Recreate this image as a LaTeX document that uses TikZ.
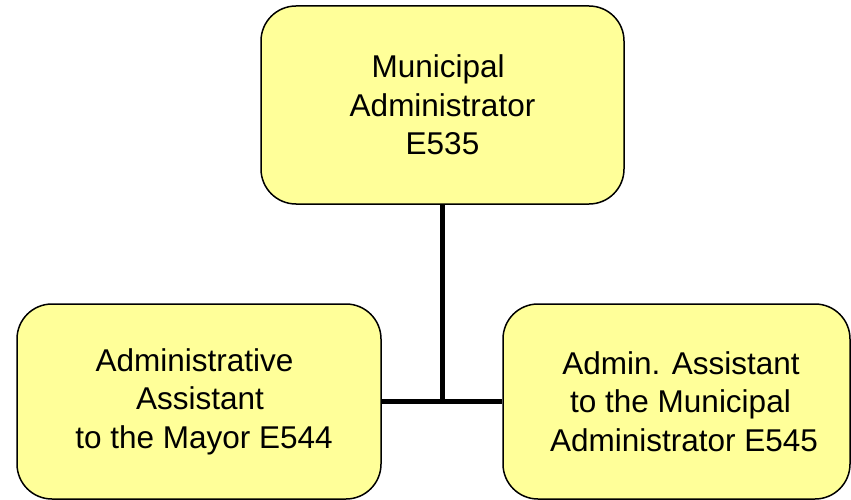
\documentclass[tikz,border=0pt]{standalone}
\usepackage{fontspec}
\setmainfont{Liberation Sans}
\begin{document}
\begin{tikzpicture}[x=1pt,y=-1pt,
  orgbox/.style={draw=black, line width=1.5pt, fill=boxyellow, rounded corners=35pt,
    inner sep=0pt, align=center, font=\fontsize{31.5}{38.5}\selectfont},
  link/.style={line width=5.5pt, black}]
\definecolor{boxyellow}{HTML}{FFFF99}
\useasboundingbox (0,0) rectangle (851,500);
\node[orgbox, minimum width=363pt, minimum height=198pt] (top) at (442.5,105)
  {Municipal\hspace*{0.28em}\\Administrator\\E535};
\node[orgbox, minimum width=364pt, minimum height=195pt] (left) at (199,401.5)
  {Administrative\hspace*{0.28em}\\\hspace*{2pt}Assistant\\\hspace*{10pt}to the Mayor E544};
\node[orgbox, minimum width=347pt, minimum height=195pt] (right) at (676.5,401.5)
  {\hspace*{9pt}Admin. Assistant\\\hspace*{8pt}to the Municipal\\\hspace*{15pt}Administrator E545};
\coordinate (junction) at (top.south |- left.east);
\draw[link] (top.south) -- (junction);
\draw[link] (left.east) -- (right.west);
\end{tikzpicture}
\end{document}
